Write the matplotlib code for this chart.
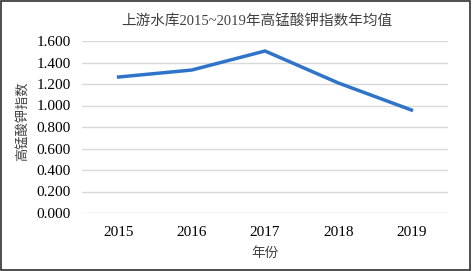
import matplotlib
matplotlib.use("Agg")
import matplotlib.pyplot as plt
from matplotlib.patches import Rectangle

# yearly mean permanganate index, upstream reservoir
years = ["2015", "2016", "2017", "2018", "2019"]
values = [1.265, 1.330, 1.507, 1.210, 0.958]
yticks = [0.0, 0.2, 0.4, 0.6, 0.8, 1.0, 1.2, 1.4, 1.6]

plt.rcParams['font.family'] = ['Liberation Serif', 'Noto Sans CJK SC']

fig = plt.figure(figsize=(4.72, 2.71), dpi=100)
ax = fig.add_axes([82/472, 1 - 213/271, 366/472, 172/271])

x = range(len(years))
ax.plot(x, values, color='#2f74c8', linewidth=2.5, solid_joinstyle='miter')

ax.set_xlim(-0.5, len(years) - 0.5)
ax.set_ylim(0, 1.6)
ax.set_xticks(list(x))
ax.set_xticklabels(years)
ax.set_yticks(yticks)
ax.set_yticklabels(["%.3f" % v for v in yticks])
ax.tick_params(length=0, labelsize=11, pad=8, colors='#000000')
ax.tick_params(axis='x', pad=9)
ax.grid(axis='y', color='#d9d9d9', linewidth=1)
ax.set_axisbelow(True)
for s in ax.spines.values():
    s.set_visible(False)

fig.text(257/472, 1 - 21/271, "上游水库2015~2019年高锰酸钾指数年均值",
         ha='center', va='center', fontsize=10.5, color='#404040')
fig.text(22/472, 1 - 121/271, "高锰酸钾指数", rotation=90,
         ha='center', va='center', fontsize=9.5, color='#404040')
fig.text(265/472, 1 - 253/271, "年份", ha='center', va='center',
         fontsize=9.8, color='#404040')

# outer frame
fig.patches.append(Rectangle((0.002, 0.003), 0.994, 0.994, transform=fig.transFigure,
                             fill=False, edgecolor='#303030', linewidth=1.2))

fig.savefig("out.png", dpi=100)
